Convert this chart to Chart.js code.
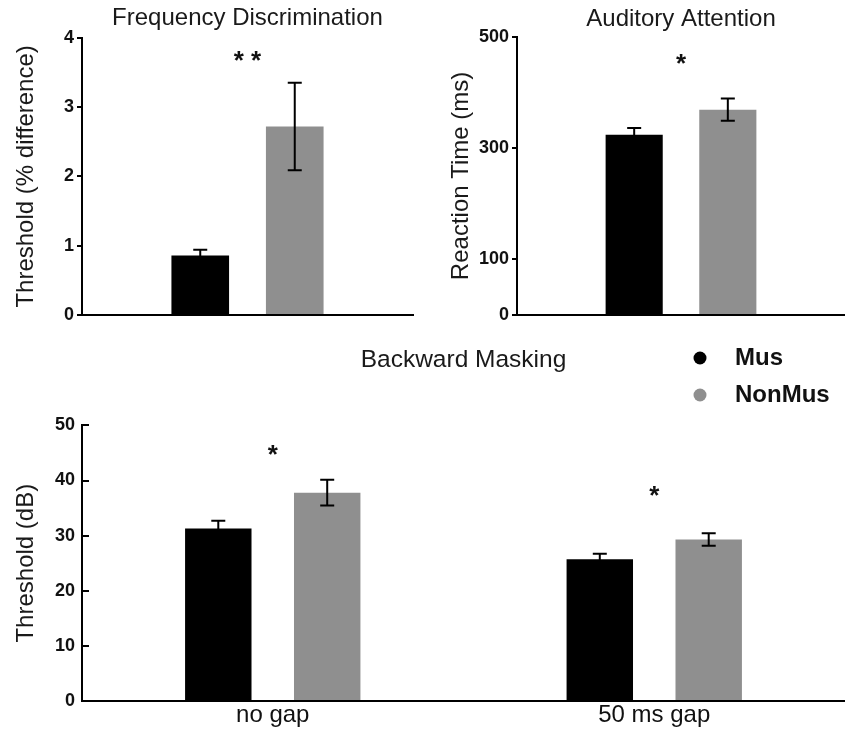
<!DOCTYPE html>
<html>
<head>
<meta charset="utf-8">
<script src="https://cdn.jsdelivr.net/npm/chart.js@4"></script>
<style>
  body { margin:0; background:#fff; }
  #wrap { position:relative; width:845px; height:733px; overflow:hidden; background:#fff; }
  canvas { position:absolute; }
  #c-freq { left:0; top:0; }
  #c-att  { left:430px; top:0; }
  #c-mask { left:0; top:330px; }
</style>
</head>
<body>
<div id="wrap">
  <canvas id="c-freq" width="420" height="330"></canvas>
  <canvas id="c-att" width="415" height="330"></canvas>
  <canvas id="c-mask" width="845" height="403"></canvas>
</div>
<script>
// ── DATA ──
const groups = ['Mus', 'NonMus'];
const groupColors = ['#000000', '#8f8f8f'];

// Frequency discrimination (% difference)
const freqMus    = [0.86];
const freqMusErr = [0.08];
const freqNon    = [2.72];
const freqNonErr = [0.63];
const freqSig    = ['* *'];
const freqSigAt  = [3.72];
const freqTicks  = [0, 1, 2, 3, 4];

// Auditory attention (ms)
const attMus    = [324];
const attMusErr = [12];
const attNon    = [369];
const attNonErr = [20];
const attSig    = ['*'];
const attSigAt  = [459];
const attTicks  = [0, 100, 300, 500];

// Backward masking (dB)
const maskLabels = ['no gap', '50 ms gap'];
const maskMus    = [31.3, 25.7];
const maskMusErr = [1.4, 1.0];
const maskNon    = [37.8, 29.3];
const maskNonErr = [2.35, 1.15];
const maskSig    = ['*', '*'];
const maskSigAt  = [45.3, 37.9];
const maskTicks  = [0, 10, 20, 30, 40, 50];

// ── PLUGINS ──
const FONT = "'Liberation Sans', Arial, sans-serif";

const errorBars = {
  id: 'errorBars',
  afterDatasetsDraw(chart) {
    const ctx = chart.ctx, y = chart.scales.y;
    ctx.save();
    ctx.strokeStyle = '#000';
    ctx.lineWidth = 2;
    chart.data.datasets.forEach((ds, i) => {
      chart.getDatasetMeta(i).data.forEach((bar, j) => {
        const v = ds.data[j], e = ds.errors[j];
        const top = y.getPixelForValue(v + e), bot = y.getPixelForValue(v - e);
        ctx.beginPath();
        ctx.moveTo(bar.x, top); ctx.lineTo(bar.x, bot);
        ctx.moveTo(bar.x - 7, top); ctx.lineTo(bar.x + 7, top);
        ctx.moveTo(bar.x - 7, bot); ctx.lineTo(bar.x + 7, bot);
        ctx.stroke();
      });
    });
    ctx.restore();
  }
};

const sigMarks = {
  id: 'sigMarks',
  afterDraw(chart, args, opts) {
    if (!opts.labels) return;
    const ctx = chart.ctx, x = chart.scales.x, y = chart.scales.y;
    ctx.save();
    ctx.fillStyle = '#111';
    ctx.font = 'bold 26px ' + FONT;
    ctx.textAlign = 'center';
    ctx.textBaseline = 'middle';
    opts.labels.forEach((s, j) => {
      ctx.fillText(s, x.getPixelForValue(j), y.getPixelForValue(opts.at[j]) + 5);
    });
    ctx.restore();
  }
};

const keyBox = {
  id: 'keyBox',
  afterDraw(chart, args, opts) {
    if (!opts.show) return;
    const ctx = chart.ctx;
    ctx.save();
    ctx.font = 'bold 24px ' + FONT;
    ctx.textBaseline = 'middle';
    chart.data.datasets.forEach((ds, i) => {
      const cy = opts.y + i * opts.gap;
      ctx.beginPath();
      ctx.arc(opts.x, cy, 6.5, 0, Math.PI * 2);
      ctx.fillStyle = ds.backgroundColor;
      ctx.fill();
      ctx.fillStyle = '#111';
      ctx.fillText(ds.label, opts.x + 35, cy);
    });
    ctx.restore();
  }
};

// ── CHART FACTORY ──
function makeChart(id, o) {
  return new Chart(document.getElementById(id), {
    type: 'bar',
    data: {
      labels: o.labels,
      datasets: groups.map((g, i) => ({
        label: g,
        data: o.values[i],
        errors: o.errors[i],
        backgroundColor: groupColors[i],
        borderWidth: 0,
        categoryPercentage: 0.571,
        barPercentage: 0.61
      }))
    },
    options: {
      responsive: false,
      animation: false,
      devicePixelRatio: 1,
      layout: { padding: { left: 0, right: o.padRight, top: 0, bottom: 0 } },
      plugins: {
        legend: { display: false },
        tooltip: { enabled: false },
        title: {
          display: true, text: o.title, fullSize: false, color: '#1a1a1a',
          font: { family: FONT, size: o.titleSize || 24, weight: 'normal' },
          padding: o.titlePad
        },
        sigMarks: { labels: o.sig, at: o.sigAt },
        keyBox: o.key || { show: false }
      },
      scales: {
        x: {
          grid: { display: false, drawTicks: false },
          border: { display: true, color: '#000', width: 2 },
          ticks: { display: o.showX, color: '#111', padding: 0, font: { family: FONT, size: 24 } },
          afterFit: s => { s.height = o.xHeight; }
        },
        y: {
          min: 0, max: o.ticks[o.ticks.length - 1],
          afterBuildTicks: s => { s.ticks = o.ticks.map(v => ({ value: v })); },
          // negative tick length puts the marks inside the plot
          grid: { drawOnChartArea: false, drawTicks: true, tickLength: o.tickLen, color: '#000', lineWidth: 2 },
          border: { display: true, color: '#000', width: 2 },
          ticks: { color: '#111', padding: o.tickPad, font: { family: FONT, size: 18, weight: 'bold' } },
          title: {
            display: true, text: o.yTitle, color: '#1a1a1a',
            font: { family: FONT, size: 24, weight: 'normal' },
            padding: { top: o.yTitlePad, bottom: 0 }
          },
          afterFit: s => { s.width = o.yWidth; }
        }
      }
    },
    plugins: [errorBars, sigMarks, keyBox]
  });
}

makeChart('c-freq', {
  labels: [''], values: [freqMus, freqNon], errors: [freqMusErr, freqNonErr],
  sig: freqSig, sigAt: freqSigAt, ticks: freqTicks,
  title: 'Frequency Discrimination', titlePad: { top: 4, bottom: 5 },
  yTitle: 'Threshold (% difference)', yTitlePad: 12, yWidth: 82,
  tickLen: 5, tickPad: 3,
  padRight: 7, xHeight: 15, showX: false
});

makeChart('c-att', {
  labels: [''], values: [attMus, attNon], errors: [attMusErr, attNonErr],
  sig: attSig, sigAt: attSigAt, ticks: attTicks,
  title: 'Auditory Attention', titlePad: { top: 5, bottom: 3 },
  yTitlePad: 17, yTitle: 'Reaction Time (ms)', yWidth: 87,
  tickLen: 5, tickPad: 3,
  padRight: 0, xHeight: 15, showX: false
});

makeChart('c-mask', {
  labels: maskLabels, values: [maskMus, maskNon], errors: [maskMusErr, maskNonErr],
  sig: maskSig, sigAt: maskSigAt, ticks: maskTicks,
  title: 'Backward Masking', titleSize: 24.5, titlePad: { top: 16, bottom: 50 },
  yTitle: 'Threshold (dB)', yTitlePad: 12, yWidth: 82,
  tickLen: -7, tickPad: 14,
  padRight: 0, xHeight: 32, showX: true,
  key: { show: true, x: 700, y: 28, gap: 37 }
});
</script>
</body>
</html>
